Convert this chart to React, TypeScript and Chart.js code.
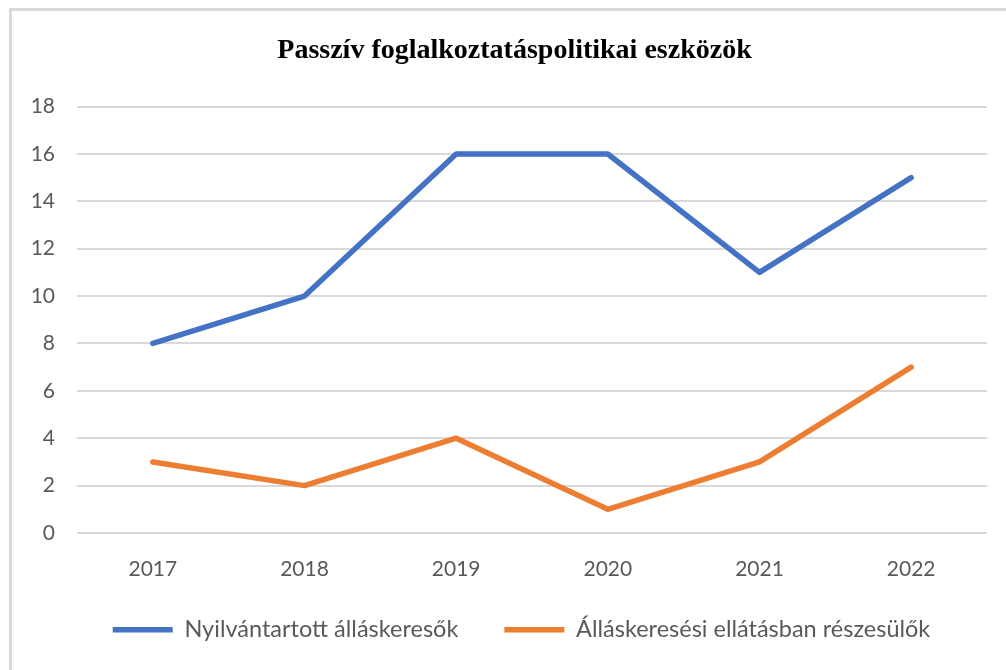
import React, { useEffect, useRef } from "react";
import { Chart, registerables } from "chart.js";

Chart.register(...registerables);

const categories = ["2017", "2018", "2019", "2020", "2021", "2022"];
const seriesNames = ["Nyilvántartott álláskeresők", "Álláskeresési ellátásban részesülők"];
const registeredJobseekers = [8, 10, 16, 16, 11, 15];
const benefitRecipients = [3, 2, 4, 1, 3, 7];
const chartTitle = "Passzív foglalkoztatáspolitikai eszközök";
const yMin = 0;
const yMax = 18;
const yStep = 2;

const BLUE = "#4472C4";
const ORANGE = "#ED7D31";
const TEXT = "#595959";
const GRID = "#d9d9d9";
const SANS = "Lato, 'Open Sans', sans-serif";

// shifts title & legend boxes horizontally (the original chart is centred on a wider frame)
// and lets the x tick labels extend below the (compact) x scale box
const layoutTweak = {
  id: "layoutTweak",
  afterLayout(chart: any) {
    const shifts: [any, number][] = [
      [chart.titleBlock, 11],
      [chart.legend, 18],
    ];
    for (const [box, dx] of shifts) {
      if (box) {
        box.left += dx;
        box.right += dx;
      }
    }
    const xs = chart.scales.x;
    if (xs) xs.bottom = xs.top + 70;
  },
};

export default function App() {
  const ref = useRef<HTMLCanvasElement | null>(null);

  useEffect(() => {
    const prevMargin = document.body.style.margin;
    document.body.style.margin = "0";
    const canvas = ref.current;
    if (!canvas) return;
    const chart = new Chart(canvas, {
      type: "line",
      plugins: [layoutTweak],
      data: {
        labels: categories,
        datasets: [
          {
            label: seriesNames[0],
            data: registeredJobseekers,
            borderColor: BLUE,
            backgroundColor: BLUE,
            borderWidth: 5.5,
            pointRadius: 0,
            pointHoverRadius: 0,
            tension: 0,
            borderCapStyle: "round",
            borderJoinStyle: "round",
            pointStyle: "line",
          },
          {
            label: seriesNames[1],
            data: benefitRecipients,
            borderColor: ORANGE,
            backgroundColor: ORANGE,
            borderWidth: 5.5,
            pointRadius: 0,
            pointHoverRadius: 0,
            tension: 0,
            borderCapStyle: "round",
            borderJoinStyle: "round",
            pointStyle: "line",
          },
        ],
      },
      options: {
        animation: false,
        responsive: false,
        maintainAspectRatio: false,
        layout: { padding: { left: 20, right: 19, top: 34, bottom: 18.5 } },
        plugins: {
          title: {
            display: true,
            text: chartTitle,
            color: "#000000",
            font: { family: "'Liberation Serif', 'Times New Roman', serif", size: 28, weight: "bold" },
            padding: { top: 0, bottom: 39 },
          },
          legend: {
            display: true,
            position: "bottom",
            labels: {
              usePointStyle: true,
              pointStyleWidth: 60,
              color: TEXT,
              font: { family: SANS, size: 23.5 },
              padding: 46,
            },
          },
          tooltip: { enabled: false },
        },
        scales: {
          x: {
            type: "category",
            offset: true,
            afterFit: (scale: any) => {
              scale.height = 39;
            },
            grid: { display: false, drawTicks: false },
            border: { display: false },
            ticks: { color: TEXT, font: { family: SANS, size: 21 }, padding: 24, maxRotation: 0 },
          },
          y: {
            min: yMin,
            max: yMax,
            afterFit: (scale: any) => {
              scale.width = 57;
            },
            grid: { color: GRID, lineWidth: 2, drawTicks: false },
            border: { display: false },
            ticks: { stepSize: yStep, color: TEXT, font: { family: SANS, size: 21 }, padding: 22 },
          },
        },
      },
    });
    return () => {
      chart.destroy();
      document.body.style.margin = prevMargin;
    };
  }, []);

  return (
    <div style={{ position: "fixed", left: 0, top: 0, width: 1006, height: 670, background: "#fff", overflow: "hidden" }}>
      <div
        style={{
          position: "absolute",
          left: 9,
          top: 8,
          width: 1006,
          height: 700,
          borderTop: "3px solid #d9d9d9",
          borderLeft: "3px solid #d9d9d9",
          boxSizing: "border-box",
        }}
      />
      <canvas ref={ref} width={1006} height={670} style={{ position: "absolute", left: 0, top: 0, width: 1006, height: 670 }} />
    </div>
  );
}
